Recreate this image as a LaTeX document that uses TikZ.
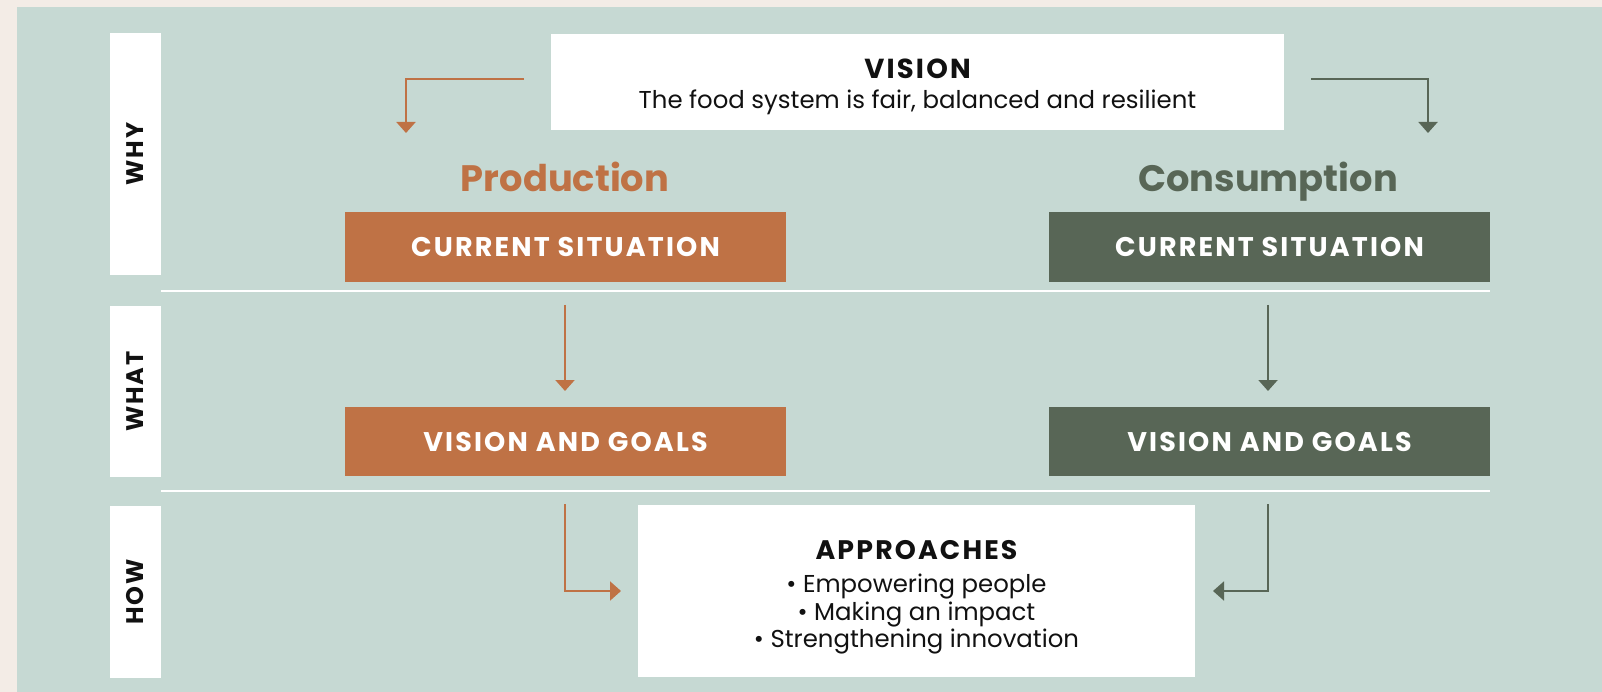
\documentclass[tikz,border=0pt]{standalone}
\usepackage{fontspec}
\setmainfont{Poppins}
\newfontfamily\spaced{Poppins}[LetterSpace=8]
\usetikzlibrary{arrows.meta}
\definecolor{beige}{HTML}{F3ECE6}
\definecolor{panel}{HTML}{C6D9D3}
\definecolor{rust}{HTML}{BF7245}
\definecolor{moss}{HTML}{586656}
\definecolor{ink}{HTML}{111111}
\tikzset{
  sidebox/.style={fill=white, rotate=90, minimum height=51pt, inner sep=0pt,
    font=\fontsize{24}{28}\selectfont\spaced\bfseries, text=ink},
  whitebox/.style={fill=white, inner sep=0pt, text=ink, align=center},
  obox/.style={fill=rust, text=white, minimum width=441pt, minimum height=70pt, inner sep=0pt,
    font=\fontsize{27}{30}\selectfont\spaced\bfseries},
  gbox/.style={obox, fill=moss},
  title/.style={font=\fontsize{36.8}{40}\selectfont\bfseries, inner sep=0pt, anchor=base},
  oarrow/.style={draw=rust, line width=2pt, -{Triangle[width=19pt,length=11pt]}},
  garrow/.style={oarrow, draw=moss},
  sep/.style={draw=white, line width=2pt}
}
\begin{document}
\begin{tikzpicture}[x=1pt,y=-1pt]
\useasboundingbox (0,0) rectangle (1602,692);
\fill[beige] (0,0) rectangle (1602,692);
\fill[panel] (17,7) rectangle (1602,692);

% side labels
\node[sidebox, minimum width=242pt] (why) at (135.5,154) {WHY};
\node[sidebox, minimum width=171pt] (what) at (135.5,391.5) {WHAT};
\node[sidebox, minimum width=172pt] (how) at (135.5,592) {HOW};

% separators
\coordinate (s1a) at (161,291); \coordinate (s1b) at (1490,291);
\coordinate (s2a) at (161,491); \coordinate (s2b) at (1490,491);
\draw[sep] (s1a) -- (s1b);
\draw[sep] (s2a) -- (s2b);

% vision
\node[whitebox, minimum width=733pt, minimum height=96pt] (vision) at (917.5,82) {};
\node[inner sep=0pt, font=\fontsize{27.5}{30}\selectfont\spaced\bfseries, text=ink] (vt) at (917.5,68.5) {VISION};
\node[inner sep=0pt, font=\fontsize{24.4}{28}\selectfont, text=ink] (vs) at (917.5,102) {The food system is fair, balanced and resilient};

% titles
\node[title, text=rust] (prod) at (565,192) {Production};
\node[title, text=moss] (cons) at (1268,192) {Consumption};

% boxes
\node[obox] (ocs) at (565.5,247) {CURRENT SITUATION};
\node[gbox] (gcs) at (1269.5,247) {CURRENT SITUATION};
\node[obox, minimum height=69pt] (ovg) at (565.5,441.5) {VISION AND GOALS};
\node[gbox, minimum height=69pt] (gvg) at (1269.5,441.5) {VISION AND GOALS};

% approaches
\node[whitebox, minimum width=557pt, minimum height=172pt] (appr) at (916.5,591) {};
\node[inner sep=0pt, font=\fontsize{26.8}{30}\selectfont\spaced\bfseries, text=ink] (at) at (916.5,550) {APPROACHES};
\node[inner sep=0pt, font=\fontsize{24.4}{27.5}\selectfont, text=ink, align=center, anchor=north] (al) at (916.5,574)
  {• Empowering people\\• Making an impact\\• Strengthening innovation};

% arrows
\coordinate (a1s) at (524,79); \coordinate (a1e) at (406,133);
\coordinate (a2s) at (1311,79); \coordinate (a2e) at (1428,133);
\coordinate (a3s) at (565,305); \coordinate (a3e) at (565,391);
\coordinate (a4s) at (1268,305); \coordinate (a4e) at (1268,391);
\coordinate (a5s) at (565,504); \coordinate (a5e) at (621,591);
\coordinate (a6s) at (1268,504); \coordinate (a6e) at (1213,591);
\draw[oarrow] (a1s) -| (a1e);
\draw[garrow] (a2s) -| (a2e);
\draw[oarrow] (a3s) -- (a3e);
\draw[garrow] (a4s) -- (a4e);
\draw[oarrow] (a5s) |- (a5e);
\draw[garrow] (a6s) |- (a6e);
\end{tikzpicture}
\end{document}
